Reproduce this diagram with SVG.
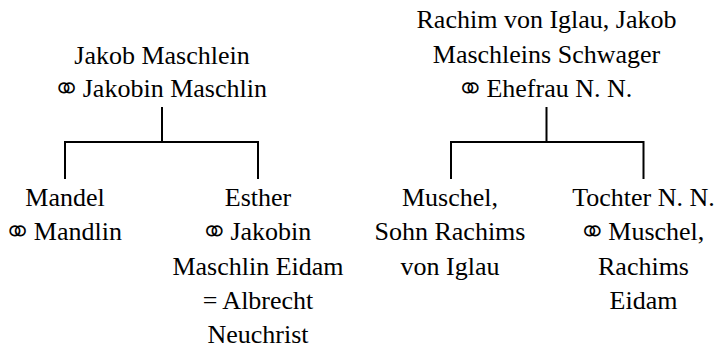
<svg xmlns="http://www.w3.org/2000/svg" width="717" height="349" viewBox="0 0 717 349">
<style>
.c{fill:none;stroke:#000;stroke-width:2}
</style>
<rect width="717" height="349" fill="#fff"/>
<g id="connectors">
<path class="c" d="M162,107V142M65,179V142H258V179"/>
<path class="c" d="M546.5,107V142M451,179V142H643.5V179"/>
</g>
<g id="jakob">
<text x="162" y="63.5" font-family="Liberation Serif, Noto Sans Symbols, DejaVu Sans, serif" font-size="26" text-anchor="middle">Jakob Maschlein</text>
<text x="162" y="97" font-family="Liberation Serif, Noto Sans Symbols, DejaVu Sans, serif" font-size="26" text-anchor="middle">⚭ Jakobin Maschlin</text>
</g>
<g id="rachim">
<text x="546.5" y="27.5" font-family="Liberation Serif, Noto Sans Symbols, DejaVu Sans, serif" font-size="26" text-anchor="middle">Rachim von Iglau, Jakob</text>
<text x="546.5" y="62.5" font-family="Liberation Serif, Noto Sans Symbols, DejaVu Sans, serif" font-size="26" text-anchor="middle">Maschleins Schwager</text>
<text x="546.5" y="97" font-family="Liberation Serif, Noto Sans Symbols, DejaVu Sans, serif" font-size="26" text-anchor="middle">⚭ Ehefrau N. N.</text>
</g>
<g id="mandel">
<text x="65" y="206" font-family="Liberation Serif, Noto Sans Symbols, DejaVu Sans, serif" font-size="26" text-anchor="middle">Mandel</text>
<text x="65" y="240" font-family="Liberation Serif, Noto Sans Symbols, DejaVu Sans, serif" font-size="26" text-anchor="middle">⚭ Mandlin</text>
</g>
<g id="esther">
<text x="258" y="206" font-family="Liberation Serif, Noto Sans Symbols, DejaVu Sans, serif" font-size="26" text-anchor="middle">Esther</text>
<text x="258" y="240" font-family="Liberation Serif, Noto Sans Symbols, DejaVu Sans, serif" font-size="26" text-anchor="middle">⚭ Jakobin</text>
<text x="258" y="275" font-family="Liberation Serif, Noto Sans Symbols, DejaVu Sans, serif" font-size="26" text-anchor="middle">Maschlin Eidam</text>
<text x="258" y="309" font-family="Liberation Serif, Noto Sans Symbols, DejaVu Sans, serif" font-size="26" text-anchor="middle">= Albrecht</text>
<text x="258" y="343" font-family="Liberation Serif, Noto Sans Symbols, DejaVu Sans, serif" font-size="26" text-anchor="middle">Neuchrist</text>
</g>
<g id="muschel">
<text x="450" y="206" font-family="Liberation Serif, Noto Sans Symbols, DejaVu Sans, serif" font-size="26" text-anchor="middle">Muschel,</text>
<text x="450" y="240" font-family="Liberation Serif, Noto Sans Symbols, DejaVu Sans, serif" font-size="26" text-anchor="middle">Sohn Rachims</text>
<text x="450" y="275" font-family="Liberation Serif, Noto Sans Symbols, DejaVu Sans, serif" font-size="26" text-anchor="middle">von Iglau</text>
</g>
<g id="tochter">
<text x="643.5" y="206" font-family="Liberation Serif, Noto Sans Symbols, DejaVu Sans, serif" font-size="26" text-anchor="middle">Tochter N. N.</text>
<text x="643.5" y="240" font-family="Liberation Serif, Noto Sans Symbols, DejaVu Sans, serif" font-size="26" text-anchor="middle">⚭ Muschel,</text>
<text x="643.5" y="275" font-family="Liberation Serif, Noto Sans Symbols, DejaVu Sans, serif" font-size="26" text-anchor="middle">Rachims</text>
<text x="643.5" y="309" font-family="Liberation Serif, Noto Sans Symbols, DejaVu Sans, serif" font-size="26" text-anchor="middle">Eidam</text>
</g>
</svg>
